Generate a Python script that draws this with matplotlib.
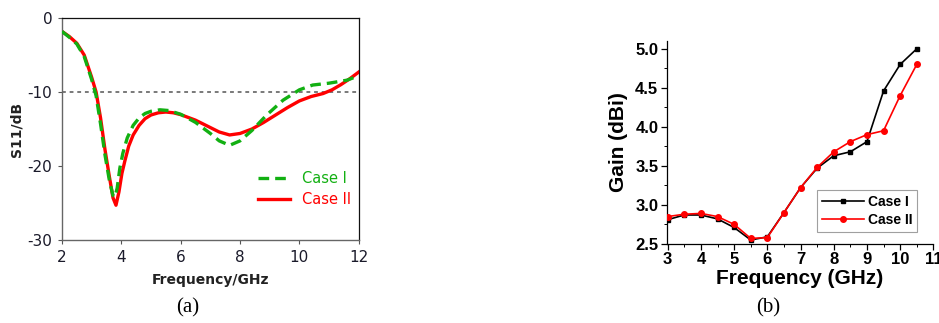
import matplotlib
matplotlib.use("Agg")
import matplotlib.pyplot as plt
from matplotlib.ticker import MultipleLocator

plt.rcParams["axes.unicode_minus"] = False

# ---- (a) reflection coefficient S11 ----
freq_case1 = [2.0, 2.25, 2.5, 2.75, 3.0, 3.15, 3.3, 3.45, 3.6, 3.72, 3.78, 3.86,
              3.95, 4.05, 4.2, 4.4, 4.6, 4.8, 5.0, 5.3, 5.6, 6.0, 6.5, 7.0, 7.3,
              7.65, 8.0, 8.4, 8.9, 9.45, 10.0, 10.45, 11.0, 11.6, 12.0]
s11_case1 = [-1.8, -2.6, -3.5, -5.2, -8.3, -10.5, -14.3, -18.5, -22.0, -24.0, -24.2, -23.0,
             -20.3, -18.3, -16.2, -14.5, -13.5, -12.9, -12.6, -12.4, -12.5, -13.0, -14.1, -15.6, -16.6,
             -17.2, -16.6, -15.2, -13.1, -11.1, -9.7, -9.05, -8.8, -8.4, -7.8]

freq_case2 = [2.0, 2.25, 2.5, 2.75, 3.0, 3.15, 3.3, 3.45, 3.6, 3.72, 3.82, 3.92,
              4.02, 4.12, 4.25, 4.4, 4.6, 4.8, 5.0, 5.25, 5.5, 5.75, 6.0, 6.5, 7.0,
              7.3, 7.65, 8.0, 8.4, 8.8, 9.2, 9.6, 10.0, 10.4, 10.8, 11.1, 11.4, 11.7, 12.0]
s11_case2 = [-1.8, -2.5, -3.4, -5.0, -8.0, -10.0, -13.5, -17.8, -21.5, -24.3, -25.3, -23.5,
             -21.0, -19.3, -17.3, -15.8, -14.5, -13.6, -13.1, -12.8, -12.7, -12.8, -13.05, -13.8, -14.8,
             -15.4, -15.8, -15.6, -15.0, -14.1, -13.1, -12.1, -11.2, -10.6, -10.2, -9.7, -9.0, -8.2, -7.3]

s11_threshold = -10
s11_xticks = [2, 4, 6, 8, 10, 12]
s11_yticks = [0, -10, -20, -30]

# ---- (b) realized gain ----
gain_freq = [3.0, 3.5, 4.0, 4.5, 5.0, 5.5, 6.0, 6.5, 7.0, 7.5, 8.0, 8.5, 9.0, 9.5, 10.0, 10.5]
gain_case1 = [2.81, 2.87, 2.87, 2.82, 2.71, 2.55, 2.59, 2.90, 3.22, 3.47, 3.63, 3.68, 3.81, 4.46, 4.80, 5.00]
gain_case2 = [2.85, 2.88, 2.89, 2.85, 2.75, 2.57, 2.58, 2.90, 3.22, 3.48, 3.68, 3.81, 3.90, 3.95, 4.40, 4.80]
gain_xticks = [3, 4, 5, 6, 7, 8, 9, 10, 11]
gain_yticks = [2.5, 3.0, 3.5, 4.0, 4.5, 5.0]

GREEN = "#12b012"
RED = "#ff0000"

fig = plt.figure(figsize=(9.39, 3.23), dpi=100)

# ---------------- panel (a) ----------------
ax1 = fig.add_axes([0.066, 0.257, 0.316, 0.687])
ax1.axhline(s11_threshold, color="#555555", lw=1.1, ls=(0, (2.5, 2.5)), zorder=1)
ax1.plot(freq_case1, s11_case1, color=GREEN, lw=2.4, ls=(0, (3.2, 1.8)),
         label="Case I", zorder=3, dash_capstyle="butt")
ax1.plot(freq_case2, s11_case2, color=RED, lw=2.4, label="Case II", zorder=2,
         solid_joinstyle="round")
ax1.set_xlim(2, 12)
ax1.set_ylim(-30, 0)
ax1.set_xticks(s11_xticks)
ax1.set_yticks(s11_yticks)
ax1.tick_params(direction="out", length=3, width=0.8, pad=4, labelsize=11,
                labelcolor="#1a1a2a", color="#555555")
for side in ("left", "bottom"):
    ax1.spines[side].set_color("#666666")
    ax1.spines[side].set_linewidth(1.0)
for side in ("top", "right"):
    ax1.spines[side].set_color("#111111")
    ax1.spines[side].set_linewidth(0.9)
ax1.set_xlabel("Frequency/GHz", fontsize=10, fontweight="bold", color="#222222", labelpad=6)
ax1.set_ylabel("S11/dB", fontsize=10, fontweight="bold", color="#222222")
ax1.yaxis.set_label_coords(-0.128, 0.5)
leg1 = ax1.legend(loc="upper left", bbox_to_anchor=(0.66, 0.31), frameon=False,
                  fontsize=10.5, handlelength=2.2, handletextpad=0.8,
                  labelspacing=0.4, borderaxespad=0, borderpad=0)
for txt, col in zip(leg1.get_texts(), (GREEN, RED)):
    txt.set_color(col)

# ---------------- panel (b) ----------------
ax2 = fig.add_axes([0.710, 0.245, 0.284, 0.628])
ax2.plot(gain_freq, gain_case1, color="black", lw=1.2, marker="s", ms=3.5,
         label="Case I", zorder=2)
ax2.plot(gain_freq, gain_case2, color=RED, lw=1.2, marker="o", ms=4,
         label="Case II", zorder=3)
ax2.set_xlim(2.97, 11)
ax2.set_ylim(2.5, 5.1)
ax2.set_xticks(gain_xticks)
ax2.set_yticks(gain_yticks)
ax2.set_yticklabels([f"{v:.1f}" for v in gain_yticks])
ax2.xaxis.set_minor_locator(MultipleLocator(0.5))
ax2.yaxis.set_minor_locator(MultipleLocator(0.25))
for side in ("top", "right"):
    ax2.spines[side].set_visible(False)
for side in ("left", "bottom"):
    ax2.spines[side].set_linewidth(0.9)
ax2.tick_params(which="major", direction="out", length=4, width=0.9, pad=2, labelsize=12)
ax2.tick_params(which="minor", direction="out", length=2, width=0.7)
for lab in ax2.get_xticklabels() + ax2.get_yticklabels():
    lab.set_fontfamily("Liberation Sans")
    lab.set_fontweight("bold")
ax2.set_xlabel("Frequency (GHz)", fontsize=15, fontweight="bold",
               fontfamily="Liberation Sans", labelpad=1)
ax2.set_ylabel("Gain (dBi)", fontsize=15, fontweight="bold",
               fontfamily="Liberation Sans", labelpad=5)
leg2 = ax2.legend(loc="upper left", bbox_to_anchor=(0.564, 0.266), frameon=True,
                  fancybox=False, edgecolor="#888888", borderaxespad=0,
                  prop={"family": "Liberation Sans", "weight": "bold", "size": 10},
                  handlelength=3.0, handletextpad=0.3, labelspacing=0.3,
                  borderpad=0.35, numpoints=1)
leg2.get_frame().set_linewidth(0.8)

# ---------------- captions ----------------
fig.text(188 / 939, 1 - 308 / 323, "(a)", ha="center", va="center",
         fontsize=15, fontfamily="Liberation Serif")
fig.text(768 / 939, 1 - 308 / 323, "(b)", ha="center", va="center",
         fontsize=15, fontfamily="Liberation Serif")

fig.savefig("out.png", dpi=100)
